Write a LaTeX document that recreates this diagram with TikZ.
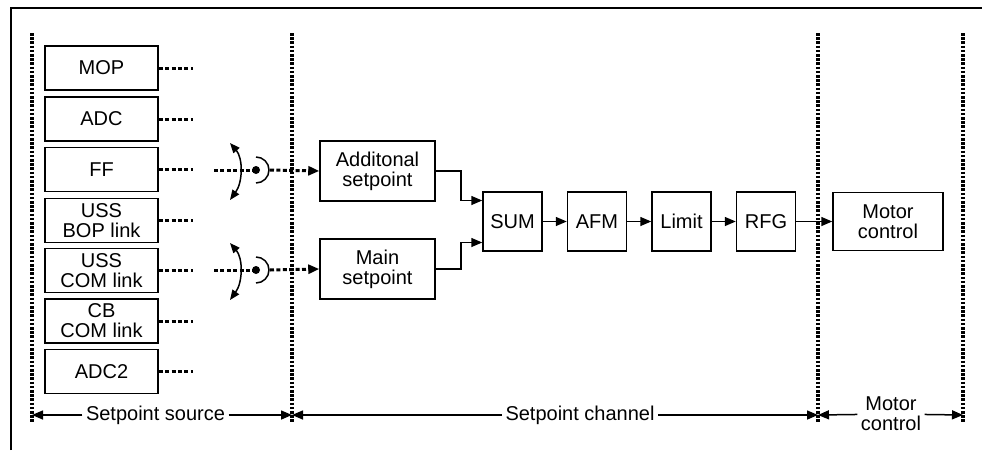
\documentclass[tikz,border=0pt]{standalone}
\usepackage{fontspec}
\setmainfont{Liberation Sans}
\usetikzlibrary{arrows.meta,positioning,calc}

\begin{document}
\begin{tikzpicture}[x=1pt,y=-1pt,
  blk/.style={draw,line width=1.5pt,inner sep=0pt,align=center,
    font=\fontsize{20}{20}\selectfont},
  src/.style={blk,minimum width=113pt,minimum height=44pt},
  chan/.style={blk,minimum size=59pt},
  sig/.style={-{Triangle[length=11pt,width=9pt]},line width=1.5pt},
  dsh/.style={line width=3pt,dash pattern=on 4pt off 2.4pt},
  dots/.style={line width=3.2pt,dash pattern=on 2.6pt off 1.6pt},
  lbl/.style={align=center,font=\fontsize{20}{20}\selectfont}]
\useasboundingbox (0,0) rectangle (982,450);
% frame, only top and left edge
\draw[line width=2.2pt] (11,450) -- (11,8) -- (982,8);
% region boundaries
\foreach \x/\n in {32/ba,292/bb,818/bc,963/bd}{
  \draw[dots] (\x,33) -- (\x,423);
  \coordinate (\n) at (\x,415);
}
% setpoint sources with their open outputs
\foreach \n/\y/\t in {mop/68/{MOP},adc/119/{ADC},ff/169.5/{FF},
    ussb/220.5/{USS\\BOP link},ussc/270.5/{USS\\COM link},
    cb/321/{CB\\COM link},adct/371.5/{ADC2}}{
  \node[src] (\n) at (101.5,\y) {\t};
  \draw[dsh] (\n.east) -- ++(34,0);
}
% setpoint channel
\node[blk,minimum width=115pt,minimum height=60pt] (addsp) at (377.5,171) {Additonal\\setpoint};
\node[blk,minimum width=115pt,minimum height=60pt] (mainsp) at (377.5,269) {Main\\setpoint};
\node[chan] (sum) at (512.5,221.5) {SUM};
\node[chan,right=24pt of sum] (afm) {AFM};
\node[chan,right=24pt of afm] (lim) {Limit};
\node[chan,right=24pt of lim] (rfg) {RFG};
\node[blk,minimum width=110pt,minimum height=58pt,right=36pt of rfg] (motor) {Motor\\control};
% selector switches
\foreach \s/\y/\t in {swa/170/addsp,swb/270/mainsp}{
  \coordinate (\s) at (256,\y);
  \draw[dsh] (214,\y) -- (\s);
  \fill (\s) circle (4pt);
  \draw[line width=1.5pt] ($(\s)+(0,-13)$) arc[start angle=90,end angle=-90,radius=13pt];
  \draw[line width=1.5pt,{Triangle[length=10pt,width=8pt]}-{Triangle[length=10pt,width=8pt]}]
    ($(\s)+(-26,-27)$) .. controls ($(\s)+(-13,-12)$) and ($(\s)+(-13,12)$) .. ($(\s)+(-26,30)$);
  \draw[dsh,-{Triangle[length=11pt,width=9pt]}] ($(\s)+(14,0)$) -- (\t.west);
}
\draw[sig] (addsp.east) -- ++(25,0) |- ([yshift=21pt]sum.west);
\draw[sig] (mainsp.east) -- ++(25,0) |- ([yshift=-21pt]sum.west);
\draw[sig] (sum) -- (afm);
\draw[sig] (afm) -- (lim);
\draw[sig] (lim) -- (rfg);
\draw[sig] (rfg) -- (motor);
% dimension line
\node[lbl] (lsrc) at (155.5,415) {Setpoint source};
\node[lbl] (lchan) at (580,415) {Setpoint channel};
\node[lbl] (lmot) at (891,414) {Motor\\control};
\draw[sig] (lsrc) -- (ba);
\draw[sig] (lsrc) -- (bb);
\draw[sig] (lchan) -- (bb);
\draw[sig] (lchan) -- (bc);
\draw[sig] (lmot) -- (bc);
\draw[sig] (lmot) -- (bd);
\end{tikzpicture}
\end{document}
